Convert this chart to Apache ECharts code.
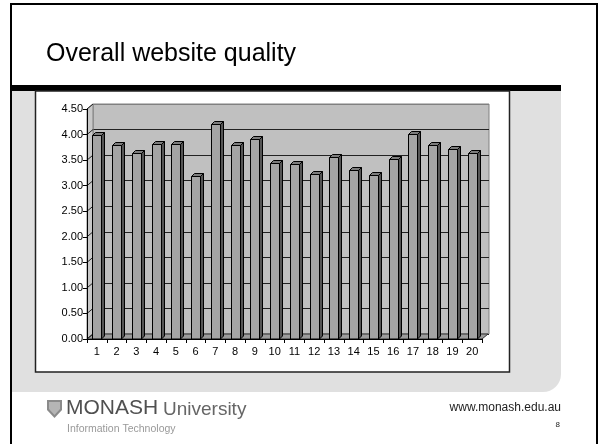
<!DOCTYPE html>
<html>
<head>
<meta charset="utf-8">
<title>Overall website quality</title>
<script src="https://cdn.jsdelivr.net/npm/echarts@6.0.0/dist/echarts.min.js"></script>
<style>
    html, body { margin: 0; padding: 0; background: #fff; }
    #main { width: 600px; height: 444px; }
</style>
</head>
<body>
<div id="main"></div>
<script>
var questions = ['1','2','3','4','5','6','7','8','9','10','11','12','13','14','15','16','17','18','19','20'];
var scores = [4.00, 3.79, 3.63, 3.81, 3.81, 3.18, 4.21, 3.80, 3.91, 3.45, 3.43, 3.22, 3.57, 3.30, 3.21, 3.52, 4.01, 3.79, 3.72, 3.64];
var yTicks = [0, 0.5, 1, 1.5, 2, 2.5, 3, 3.5, 4, 4.5];

var FONT = '"Liberation Sans", Arial, sans-serif';
var DX = 6, DY = 5;   // depth of the walls
var BD = 3;           // depth of a column
var BW = 9;           // width of a column's front face

// back wall lines: the top one is the wall edge, lighter
var wallLineColors = yTicks.map(function (v, i) {
    return i === yTicks.length - 1 ? '#808080' : '#222';
});

function renderWall(params, api) {
    var band = api.size([1, 0])[0];
    var p = api.coord([0, api.value(1)]);
    var x0 = p[0] - band / 2;
    var kids = [];
    if (params.dataIndex === 0) {
        var yb = p[1];
        var yt = api.coord([0, yTicks[yTicks.length - 1]])[1];
        var xr = api.coord([questions.length - 1, 0])[0] + band / 2;
        // side wall
        kids.push({type: 'polygon', shape: {points: [[x0, yb], [x0 + DX, yb - DY], [x0 + DX, yt - DY], [x0, yt]]},
            style: {fill: '#c8c8c8', stroke: '#808080', lineWidth: 1}});
        // floor
        kids.push({type: 'polygon', shape: {points: [[x0, yb], [xr, yb], [xr + DX, yb - DY], [x0 + DX, yb - DY]]},
            style: {fill: '#9c9c9c', stroke: '#333', lineWidth: 1}});
    }
    kids.push({type: 'line', shape: {x1: x0, y1: p[1], x2: x0 + DX, y2: p[1] - DY},
        style: {stroke: '#222', lineWidth: 1}});
    return {type: 'group', children: kids};
}

function renderBar(params, api) {
    var top = api.coord([api.value(0), api.value(1)]);
    var base = api.coord([api.value(0), 0]);
    var l = Math.round(top[0] - BW / 2) + 0.5, r = l + BW;
    var t = Math.round(top[1]) + 0.5, b = base[1];
    return {type: 'group', children: [
        {type: 'polygon', shape: {points: [[r, t], [r + BD, t - BD], [r + BD, b - BD], [r, b]]},
            style: {fill: '#555', stroke: '#000', lineWidth: 1}},
        {type: 'polygon', shape: {points: [[l, t], [l + BD, t - BD], [r + BD, t - BD], [r, t]]},
            style: {fill: '#7c7c7c', stroke: '#000', lineWidth: 1}},
        {type: 'rect', shape: {x: l, y: t, width: BW, height: b - t},
            style: {fill: '#a4a4a4', stroke: '#000', lineWidth: 1}}
    ]};
}

var chart = echarts.init(document.getElementById('main'));
chart.setOption({
    animation: false,
    title: {
        text: 'Overall website quality',
        left: 41,
        top: 37,
        textStyle: {fontFamily: FONT, fontSize: 25, fontWeight: 'normal', color: '#000'}
    },
    graphic: [
        {type: 'rect', z: -30, shape: {x: 11, y: 4, width: 586, height: 450},
            style: {fill: '#fff', stroke: '#000', lineWidth: 2}},
        {type: 'rect', z: -29, shape: {x: 12, y: 91, width: 549, height: 301, r: [0, 0, 18, 0]},
            style: {fill: '#e0e0e0'}},
        {type: 'rect', z: -29, shape: {x: 12, y: 85, width: 549, height: 6},
            style: {fill: '#000'}},
        {type: 'rect', z: -28, shape: {x: 35.5, y: 91, width: 474, height: 281},
            style: {fill: '#fff', stroke: '#222', lineWidth: 1.5}},
        // footer
        {type: 'text', style: {text: 'www.monash.edu.au', x: 561, y: 408, align: 'right', verticalAlign: 'middle',
            font: '12px ' + FONT, fill: '#222'}},
        {type: 'text', style: {text: '8', x: 560, y: 425, align: 'right', verticalAlign: 'middle',
            font: '8px ' + FONT, fill: '#222'}},
        // logo
        {type: 'polygon', shape: {points: [[47, 400], [62, 400], [62, 410], [54.5, 418], [47, 410]]},
            style: {fill: '#8a8a8a'}},
        {type: 'polygon', shape: {points: [[49, 402], [60, 402], [60, 409], [54.5, 415], [49, 409]]},
            style: {fill: '#b5b5b5'}},
        {type: 'text', style: {text: 'MONASH', x: 66, y: 419, verticalAlign: 'bottom',
            font: '21px ' + FONT, fill: '#505050'}},
        {type: 'text', style: {text: 'University', x: 163, y: 419, verticalAlign: 'bottom',
            font: '19px ' + FONT, fill: '#666'}},
        {type: 'text', style: {text: 'Information Technology', x: 67, y: 429, verticalAlign: 'middle',
            font: '10.5px ' + FONT, fill: '#999'}}
    ],
    grid: [
        {left: 87, top: 109, width: 395, height: 230},
        {left: 93, top: 104, width: 396, height: 230, show: true,
            backgroundColor: '#c0c0c0', borderColor: '#808080', borderWidth: 1}
    ],
    xAxis: [
        {
            type: 'category', gridIndex: 0, data: questions, z: 10,
            axisLine: {lineStyle: {color: '#000', width: 1}},
            axisTick: {show: true, length: 4, alignWithLabel: false, interval: 0, lineStyle: {color: '#000'}},
            axisLabel: {interval: 0, margin: 7, fontSize: 11, fontFamily: FONT, color: '#000'}
        },
        {type: 'category', gridIndex: 1, data: questions, show: false}
    ],
    yAxis: [
        {
            type: 'value', gridIndex: 0, min: 0, max: 4.5, interval: 0.5, z: 10,
            axisLine: {show: true, lineStyle: {color: '#000', width: 1}},
            axisTick: {show: true, length: 4, lineStyle: {color: '#000'}},
            splitLine: {show: false},
            axisLabel: {
                margin: 4, fontSize: 11, fontFamily: FONT, color: '#000',
                formatter: function (v) { return v.toFixed(2); }
            }
        },
        {
            type: 'value', gridIndex: 1, min: 0, max: 4.5, interval: 0.5,
            axisLine: {show: false}, axisTick: {show: false}, axisLabel: {show: false},
            splitLine: {show: true, lineStyle: {color: wallLineColors, width: 1}}
        }
    ],
    series: [
        {
            type: 'custom', name: 'walls', xAxisIndex: 0, yAxisIndex: 0, z: 1, silent: true,
            renderItem: renderWall,
            data: yTicks.map(function (v) { return [0, v]; })
        },
        {
            type: 'custom', name: 'Overall website quality', xAxisIndex: 0, yAxisIndex: 0, z: 2,
            renderItem: renderBar,
            data: scores.map(function (v, i) { return [i, v]; })
        }
    ]
});
</script>
</body>
</html>
